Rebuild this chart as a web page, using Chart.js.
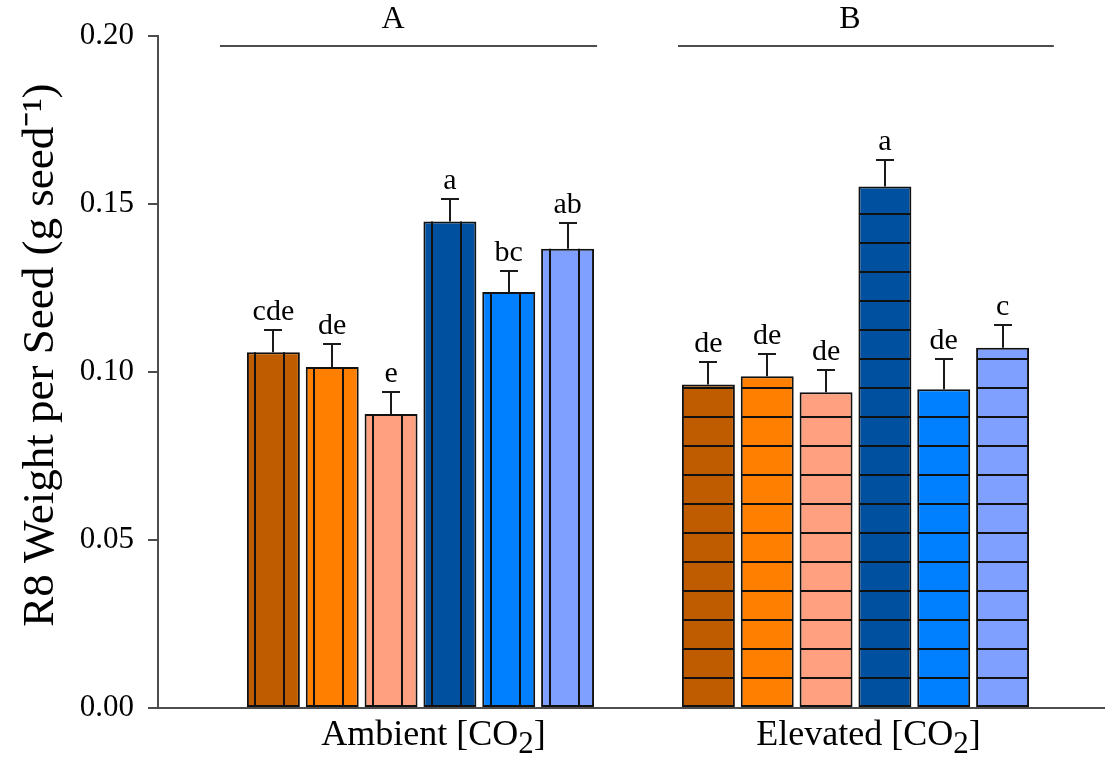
<!DOCTYPE html>
<html><head><meta charset="utf-8">
<script src="https://cdn.jsdelivr.net/npm/chart.js@4/dist/chart.umd.min.js"></script>
<style>html,body{margin:0;padding:0;background:#fff}#wrap{width:1105px;height:761px}</style>
</head><body><div id="wrap"><canvas id="c" width="1105" height="761"></canvas></div>
<script>
// ---- data ----
const categoryNames = ['Ambient', 'Elevated'];
const categoryPositions = [1, 2];
const seriesNames = ['Series 1', 'Series 2', 'Series 3', 'Series 4', 'Series 5', 'Series 6'];
const ambientValues  = [0.1059, 0.1015, 0.0875, 0.1448, 0.1238, 0.1367];
const ambientErrors  = [0.0065, 0.0067, 0.0065, 0.0067, 0.0064, 0.0077];
const elevatedValues = [0.0963, 0.0987, 0.0940, 0.1552, 0.0949, 0.1072];
const elevatedErrors = [0.0066, 0.0066, 0.0065, 0.0078, 0.0090, 0.0067];
const ambientLetters  = ['cde', 'de', 'e', 'a', 'bc', 'ab'];
const elevatedLetters = ['de', 'de', 'de', 'a', 'de', 'c'];
const groupLetters = ['A', 'B'];
const groupLetterX = [0.937, 1.987];
const groupLineStart = [0.539, 1.592];
const groupLineEnd = [1.406, 2.456];
const groupLineValue = 0.197;
const groupLetterValue = 0.2048;
const yTicks = [0, 0.05, 0.10, 0.15, 0.20];

// ---- styles ----
const seriesColors = ['#C05C00', '#FF8000', '#FFA080', '#0050A0', '#0080FF', '#80A0FF'];
const hatchDirection = ['vertical', 'horizontal'];
const FONT = "'Liberation Serif', 'Times New Roman', serif";

const valuesByCat = [ambientValues, elevatedValues];
const errorsByCat = [ambientErrors, elevatedErrors];
const lettersByCat = [ambientLetters, elevatedLetters];

const datasets = seriesNames.map((name, si) => ({
  label: name,
  data: categoryPositions.map((pos, ci) => ({ x: pos, y: valuesByCat[ci][si] })),
  backgroundColor: seriesColors[si],
  borderColor: '#111',
  borderWidth: 2,
  borderSkipped: false,
  categoryPercentage: 0.8115,
  barPercentage: 0.9
}));

const decor = {
  id: 'decor',
  afterDatasetsDraw(chart) {
    const ctx = chart.ctx, ys = chart.scales.y, xs = chart.scales.x;
    chart.data.datasets.forEach((ds, si) => {
      const meta = chart.getDatasetMeta(si);
      meta.data.forEach((bar, ci) => {
        const p = bar.getProps(['x', 'y', 'base', 'width'], true);
        const left = p.x - p.width / 2, right = p.x + p.width / 2;
        ctx.save();
        ctx.strokeStyle = '#111';
        ctx.lineWidth = 2;
        ctx.beginPath();
        if (hatchDirection[ci] === 'vertical') {
          [8.5, 37.5].forEach(o => { const xx = Math.round(left + o); ctx.moveTo(xx, p.y); ctx.lineTo(xx, p.base); });
        } else {
          for (let k = 1; ; k++) {
            const yy = Math.round(p.base - 29 * k);
            if (yy <= p.y + 1) break;
            ctx.moveTo(left + 1, yy); ctx.lineTo(right - 1, yy);
          }
        }
        ctx.stroke();
        // error bar
        const v = valuesByCat[ci][si], e = errorsByCat[ci][si];
        const yt = Math.round(ys.getPixelForValue(v + e));
        const cx = Math.round(p.x);
        ctx.strokeStyle = '#1a1a1a';
        ctx.lineWidth = 2;
        ctx.beginPath();
        ctx.moveTo(cx, p.y); ctx.lineTo(cx, yt);
        ctx.moveTo(cx - 9, yt); ctx.lineTo(cx + 9, yt);
        ctx.stroke();
        ctx.fillStyle = '#000';
        ctx.font = "30px " + FONT;
        ctx.textAlign = 'center';
        ctx.textBaseline = 'alphabetic';
        ctx.fillText(lettersByCat[ci][si], p.x, yt - 10);
        ctx.restore();
      });
    });
    // group lines and letters
    ctx.save();
    ctx.strokeStyle = '#4d4d4d';
    ctx.lineWidth = 2;
    const gy = Math.round(ys.getPixelForValue(groupLineValue));
    groupLetters.forEach((g, i) => {
      ctx.beginPath();
      ctx.moveTo(xs.getPixelForValue(groupLineStart[i]), gy);
      ctx.lineTo(xs.getPixelForValue(groupLineEnd[i]), gy);
      ctx.stroke();
      ctx.fillStyle = '#000';
      ctx.font = "32px " + FONT;
      ctx.textAlign = 'center';
      ctx.textBaseline = 'middle';
      ctx.fillText(g, xs.getPixelForValue(groupLetterX[i]), ys.getPixelForValue(groupLetterValue));
    });
    ctx.restore();
    // category labels: "<name> [CO" + subscript "2" + "]"
    ctx.save();
    ctx.fillStyle = '#000';
    ctx.textBaseline = 'alphabetic';
    ctx.textAlign = 'left';
    const baseY = ys.bottom + 37;
    categoryNames.forEach((name, i) => {
      const main = name + ' [CO';
      ctx.font = "36px " + FONT;
      const w1 = ctx.measureText(main).width;
      const w3 = ctx.measureText(']').width;
      ctx.font = "31px " + FONT;
      const w2 = ctx.measureText('2').width;
      const total = w1 + w2 + w3;
      let x0 = xs.getPixelForValue(categoryPositions[i]) + 13 - total / 2;
      ctx.font = "36px " + FONT;
      ctx.fillText(main, x0, baseY);
      ctx.font = "31px " + FONT;
      ctx.fillText('2', x0 + w1, baseY + 8);
      ctx.font = "36px " + FONT;
      ctx.fillText(']', x0 + w1 + w2, baseY);
    });
    ctx.restore();
  }
};

new Chart(document.getElementById('c'), {
  type: 'bar',
  data: { datasets },
  plugins: [decor],
  options: {
    responsive: false,
    devicePixelRatio: 1,
    animation: false,
    layout: { padding: { top: 36, right: 0, bottom: 0, left: 0 } },
    plugins: { legend: { display: false }, tooltip: { enabled: false } },
    scales: {
      x: {
        type: 'linear',
        offset: false,
        min: 0.3966,
        max: 2.5736,
        grid: { display: false, drawTicks: false, offset: false },
        border: { display: true, color: '#4d4d4d', width: 2 },
        ticks: { display: false },
        afterBuildTicks: (s) => { s.ticks = categoryPositions.map(v => ({ value: v })); },
        afterFit: (s) => { s.height = 53; }
      },
      y: {
        min: 0,
        max: 0.2,
        grid: { display: true, drawOnChartArea: false, drawTicks: true, tickLength: 10, color: '#4d4d4d', lineWidth: 2 },
        border: { display: true, color: '#4d4d4d', width: 2 },
        ticks: {
          font: { family: FONT, size: 31 },
          color: '#000',
          padding: 14,
          callback: (v) => Number(v).toFixed(2)
        },
        afterBuildTicks: (s) => { s.ticks = yTicks.map(v => ({ value: v })); },
        title: {
          display: true,
          text: '   R8 Weight per Seed (g seed\u207B\u00B9)',
          font: { family: FONT, size: 45 },
          color: '#000',
          padding: { top: 14, bottom: 0 }
        },
        afterFit: (s) => { s.width = 158; }
      }
    }
  }
});
</script>
</body></html>
